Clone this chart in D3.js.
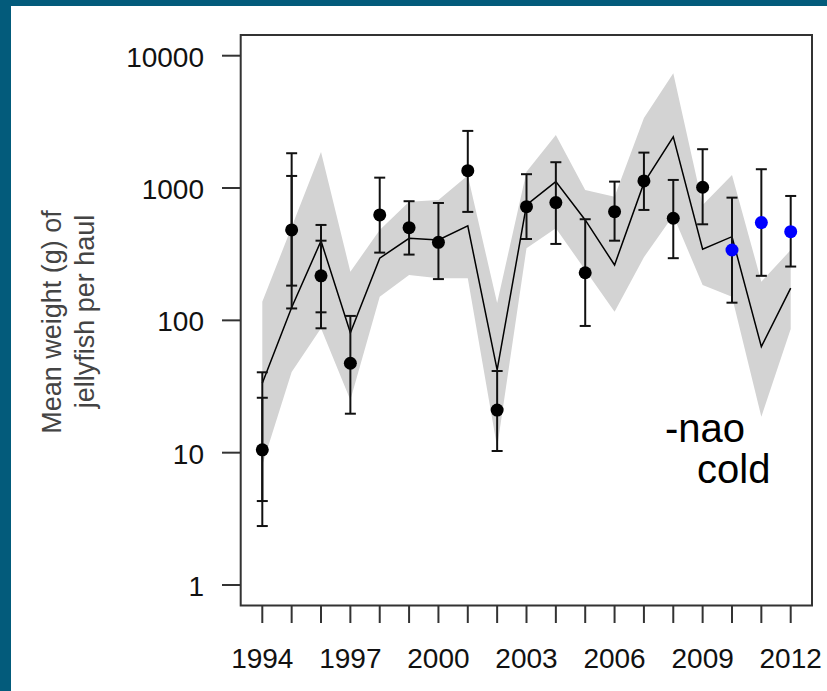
<!DOCTYPE html>
<html>
<head>
<meta charset="utf-8">
<script src="https://cdn.jsdelivr.net/npm/d3@7"></script>
<style>
    body { margin: 0; background: #fff; }
    svg { display: block; font-family: "Liberation Sans", Arial, sans-serif; }
</style>
</head>
<body>
<div id="chart"></div>
<script>
// survey years
const years = [1994, 1995, 1996, 1997, 1998, 1999, 2000, 2001, 2002, 2003,
    2004, 2005, 2006, 2007, 2008, 2009, 2010, 2011, 2012];

// observed mean weight per haul and its interval
const obsMean  = [10.5, 482, 217, 47.4, 626, 502, 389, 1353, 21, 723, 776, 229, 663, 1132, 591, 1014, 340, 548, 468];
const obsUpper = [40.5, 1832, 526, 108, 1198, 795, 771, 2702, 41.4, 1272, 1567, 581, 1118, 1852, 1151, 1965, 846, 1387, 871];
const obsLower = [2.79, 123, 87.1, 19.7, 325, 314, 205, 660, 10.3, 412, 378, 90.7, 400, 683, 295, 532, 136, 217, 255];
// second (narrower) interval, only drawn for the first years
const innerUpper = [26.0, 1234, 400, null, null, null, null, null, null, null, null, null, null, null, null, null, null, null, null];
const innerLower = [4.31, 183, 115, null, null, null, null, null, null, null, null, null, null, null, null, null, null, null, null];

// -nao cold years shown in blue
const coldYears = [2010, 2011, 2012];

// model fit and its band
const fitMean  = [33.5, 125, 398, 80.7, 295, 417, 405, 517, 42.2, 745, 1118, 574, 262, 1093, 2433, 345, 429, 63.3, 175];
const fitUpper = [138, 508, 1875, 233, 482, 789, 813, 1241, 135, 1330, 2520, 967, 861, 3388, 7375, 745, 1256, 196, 340];
const fitLower = [8.07, 40.7, 87.1, 25.0, 151, 220, 208, 208, 11.0, 351, 497, 240, 116, 300, 620, 185, 151, 18.7, 86];

const yTicks = [1, 10, 100, 1000, 10000];
const xLabels = [1994, 1997, 2000, 2003, 2006, 2009, 2012];

const WIDTH = 827;
const HEIGHT = 691;
const box = { left: 240.7, top: 35, right: 812, bottom: 605.5 };

const svg = d3.select("#chart").append("svg")
    .attr("width", WIDTH)
    .attr("height", HEIGHT);

// slide frame
svg.append("rect")
    .attr("width", WIDTH)
    .attr("height", HEIGHT)
    .attr("fill", "#035b7b");
svg.append("rect")
    .attr("x", 11)
    .attr("y", 6)
    .attr("width", WIDTH - 11)
    .attr("height", HEIGHT - 6)
    .attr("fill", "#fff");

const x = d3.scaleLinear()
    .domain([1994, 2012])
    .range([262.3, 790.7]);

const y = d3.scaleLog()
    .domain([1, 10000])
    .range([585, 55.7]);

const rows = years.map((yr, i) => ({
    year: yr,
    mean: obsMean[i], lo: obsLower[i], hi: obsUpper[i],
    ilo: innerLower[i], ihi: innerUpper[i],
    fit: fitMean[i], flo: fitLower[i], fhi: fitUpper[i]
}));

// band
svg.append("path")
    .datum(rows)
    .attr("fill", "#d3d3d3")
    .attr("d", d3.area()
        .x(d => x(d.year))
        .y0(d => y(d.flo))
        .y1(d => y(d.fhi)));

// fitted line
svg.append("path")
    .datum(rows)
    .attr("fill", "none")
    .attr("stroke", "#000")
    .attr("stroke-width", 1.5)
    .attr("d", d3.line()
        .x(d => x(d.year))
        .y(d => y(d.fit)));

// error bars
const cap = 5.5;
function drawBar(g, getLo, getHi) {
    g.append("line")
        .attr("x1", d => x(d.year)).attr("x2", d => x(d.year))
        .attr("y1", d => y(getLo(d))).attr("y2", d => y(getHi(d)));
    g.append("line")
        .attr("x1", d => x(d.year) - cap).attr("x2", d => x(d.year) + cap)
        .attr("y1", d => y(getLo(d))).attr("y2", d => y(getLo(d)));
    g.append("line")
        .attr("x1", d => x(d.year) - cap).attr("x2", d => x(d.year) + cap)
        .attr("y1", d => y(getHi(d))).attr("y2", d => y(getHi(d)));
}

const bars = svg.append("g")
    .attr("stroke", "#111")
    .attr("stroke-width", 2);

drawBar(bars.selectAll(".bar").data(rows).enter().append("g").attr("class", "bar"),
    d => d.lo, d => d.hi);
drawBar(bars.selectAll(".inner").data(rows.filter(d => d.ilo != null)).enter().append("g").attr("class", "inner"),
    d => d.ilo, d => d.ihi);

// points
svg.append("g").selectAll("circle")
    .data(rows)
    .enter().append("circle")
        .attr("cx", d => x(d.year))
        .attr("cy", d => y(d.mean))
        .attr("r", 6.5)
        .attr("fill", d => coldYears.includes(d.year) ? "#0000ff" : "#000");

// plot box
svg.append("rect")
    .attr("x", box.left)
    .attr("y", box.top)
    .attr("width", box.right - box.left)
    .attr("height", box.bottom - box.top)
    .attr("fill", "none")
    .attr("stroke", "#333")
    .attr("stroke-width", 2);

// y axis
const yAxis = svg.append("g");
yAxis.selectAll("line")
    .data(yTicks)
    .enter().append("line")
        .attr("x1", 222).attr("x2", box.left)
        .attr("y1", d => y(d)).attr("y2", d => y(d))
        .attr("stroke", "#333")
        .attr("stroke-width", 2);
yAxis.selectAll("text")
    .data(yTicks)
    .enter().append("text")
        .attr("x", 204)
        .attr("y", d => y(d) + 11)
        .attr("text-anchor", "end")
        .attr("font-size", 28)
        .attr("fill", "#111")
        .text(d => d);

// x axis
const xAxis = svg.append("g");
xAxis.selectAll("line")
    .data(years)
    .enter().append("line")
        .attr("x1", d => x(d)).attr("x2", d => x(d))
        .attr("y1", box.bottom).attr("y2", 623)
        .attr("stroke", "#333")
        .attr("stroke-width", 2);
xAxis.selectAll("text")
    .data(xLabels)
    .enter().append("text")
        .attr("x", d => x(d))
        .attr("y", 668)
        .attr("text-anchor", "middle")
        .attr("font-size", 28)
        .attr("fill", "#111")
        .text(d => d);

// y title
svg.append("text")
    .attr("transform", "translate(61,322) rotate(-90)")
    .attr("text-anchor", "middle")
    .attr("font-size", 27)
    .attr("fill", "#444")
    .text("Mean weight (g) of");
svg.append("text")
    .attr("transform", "translate(94,311.5) rotate(-90)")
    .attr("text-anchor", "middle")
    .attr("font-size", 27)
    .attr("fill", "#444")
    .text("jellyfish per haul");

// annotation
svg.append("text")
    .attr("x", 665)
    .attr("y", 441.5)
    .attr("font-size", 40)
    .attr("fill", "#000")
    .text("-nao");
svg.append("text")
    .attr("x", 697)
    .attr("y", 482.5)
    .attr("font-size", 40)
    .attr("fill", "#000")
    .text("cold");
</script>
</body>
</html>
